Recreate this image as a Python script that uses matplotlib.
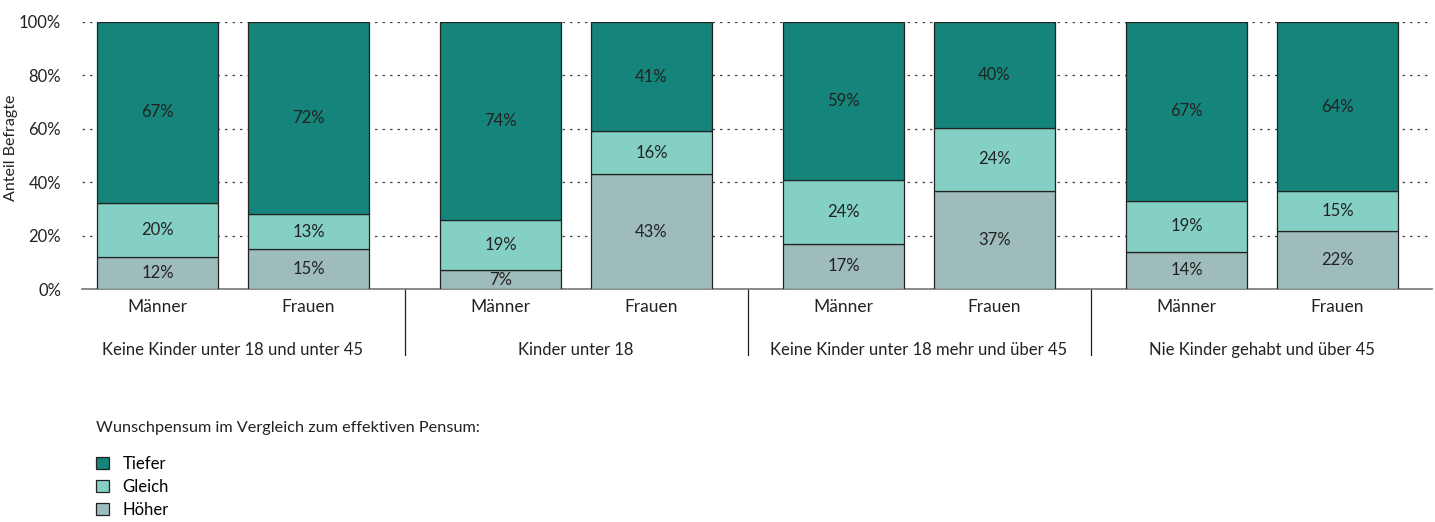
import numpy as np
import matplotlib.pyplot as plt
from matplotlib.lines import Line2D

plt.rcParams['font.family'] = ['Lato', 'DejaVu Sans']

groups = ['Keine Kinder unter 18 und unter 45', 'Kinder unter 18',
          'Keine Kinder unter 18 mehr und über 45', 'Nie Kinder gehabt und über 45']
sexes = ['Männer', 'Frauen']
labels = ['Tiefer', 'Gleich', 'Höher']
colors = ['#15847a', '#84d0c5', '#9ebcbb']

# order: Männer, Frauen per group
hoeher = [12, 15, 7, 43, 17, 37, 14, 22]
gleich = [20, 13, 19, 16, 24, 24, 19, 15]
tiefer = [67, 72, 74, 41, 59, 40, 67, 64]

fs = 12
fig = plt.figure(figsize=(14.35, 5.22), dpi=100)
ax = fig.add_axes([82 / 1435, 1 - 289 / 522, (1432 - 82) / 1435, 267 / 522])

group_gap = 343 / 151
bar_w = 121 / 151
x = np.array([g * group_gap + s for g in range(len(groups)) for s in range(2)])

h = np.array(hoeher, float)
gl = np.array(gleich, float)
t = np.array(tiefer, float)
tot = h + gl + t
h_n, g_n, t_n = h / tot * 100, gl / tot * 100, t / tot * 100

ax.set_axisbelow(True)
ax.yaxis.grid(True, linestyle=(0, (2, 4)), color='#444444', linewidth=0.9)

bars = []
bottom = np.zeros(len(x))
for vals, raw, col, lab in [(h_n, hoeher, colors[2], labels[2]),
                            (g_n, gleich, colors[1], labels[1]),
                            (t_n, tiefer, colors[0], labels[0])]:
    b = ax.bar(x, vals, bar_w, bottom=bottom, color=col, edgecolor='#222222',
               linewidth=0.9, label=lab, zorder=3)
    bars.append(b)
    for xi, bi, vi, ri in zip(x, bottom, vals, raw):
        ax.text(xi, bi + vi / 2, f'{ri}%', ha='center', va='center',
                fontsize=fs, color='#222222', zorder=4)
    bottom = bottom + vals

ax.set_xlim(-75.5 / 151, (1432 - 157.5) / 151)
ax.set_ylim(0, 100)
ax.set_yticks(np.arange(0, 101, 20))
ax.set_yticklabels([f'{v}%' for v in range(0, 101, 20)], fontsize=fs, color='#222222')
ax.tick_params(axis='y', length=0, pad=15)
ax.set_xticks(x)
ax.set_xticklabels(sexes * len(groups), fontsize=fs + 0.5, color='#222222')
ax.tick_params(axis='x', length=0, pad=7)
for s in ['top', 'right', 'left']:
    ax.spines[s].set_visible(False)
ax.spines['bottom'].set_color('#777777')
ax.spines['bottom'].set_linewidth(1.2)
ax.set_ylabel('Anteil Befragte', fontsize=fs - 0.5, color='#222222')
ax.yaxis.set_label_coords(-64 / 1350, 0.53)

# group labels and separators
trans = ax.get_xaxis_transform()
for g, name in enumerate(groups):
    cx = g * group_gap + 0.5
    ax.text(cx, -61 / 267, name, transform=trans, ha='center', va='center',
            fontsize=fs, color='#222222')
    if g > 0:
        sx = (g - 1) * group_gap + 1 + (group_gap - 1) / 2
        ax.add_line(Line2D([sx, sx], [0, -66 / 267], transform=trans,
                           color='#222222', linewidth=0.9, clip_on=False))

fig.text(96 / 1435, 1 - 428 / 522, 'Wunschpensum im Vergleich zum effektiven Pensum:',
         fontsize=fs - 0.3, color='#222222', va='center')
fig.legend(handles=bars[::-1], labels=labels, loc='upper left',
           bbox_to_anchor=(96 / 1435, 1 - 456 / 522), frameon=False,
           handlelength=0.78, handleheight=0.78, labelspacing=0.42,
           handletextpad=0.8, fontsize=fs, borderaxespad=0, borderpad=0)

fig.savefig('out.png', dpi=100)
